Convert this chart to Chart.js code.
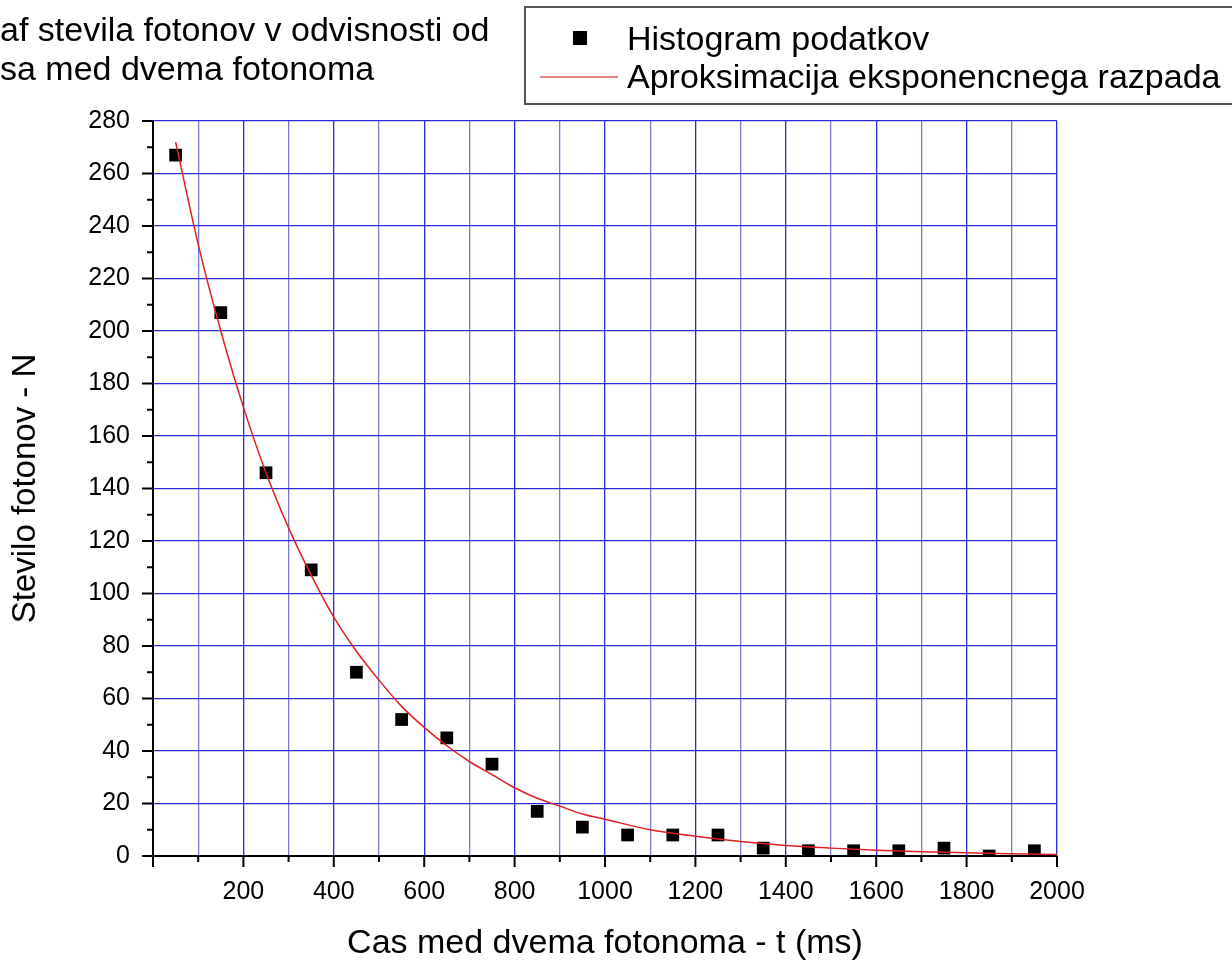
<!DOCTYPE html>
<html>
<head>
<meta charset="utf-8">
<script src="https://cdn.jsdelivr.net/npm/chart.js@4/dist/chart.umd.min.js"></script>
<style>
  html, body { margin: 0; padding: 0; background: #fff; }
  #wrap { width: 1232px; height: 965px; }
</style>
</head>
<body>
<div id="wrap"><canvas id="chart" width="1232" height="965"></canvas></div>
<script>
// histogram data (bin centres, counts)
const binT = [50, 150, 250, 350, 450, 550, 650, 750, 850, 950, 1050, 1150, 1250, 1350, 1450, 1550, 1650, 1750, 1850, 1950];
const binN = [267, 207, 146, 109, 70, 52, 45, 35, 17, 11, 8, 8, 8, 3, 2, 2, 2, 3, 0, 2];

// fitted exponential decay
const fitT = [50, 100, 150, 200, 250, 300, 350, 400, 450, 500, 550, 600, 650, 700, 750, 800, 850, 900, 950, 1000,
  1100, 1200, 1300, 1400, 1500, 1600, 1700, 1800, 1900, 2000];
const fitN = [272, 233, 200, 171, 146, 125, 107, 91, 78, 67, 57, 49, 42, 36, 31, 26, 22, 19, 16, 14,
  10, 7.5, 5.5, 4, 3, 2.2, 1.6, 1.2, 0.9, 0.6];

const titleLines = ['af stevila fotonov v odvisnosti od', 'sa med dvema fotonoma'];
const legendLabels = ['Histogram podatkov', 'Aproksimacija eksponencnega razpada'];

const FONT = '"Liberation Sans", Arial, sans-serif';
const GRID_MAJOR = '#2a2ad8';
const GRID_MINOR = '#7a7ad0';

// minor/major tick marks + title + legend box
const decor = {
  id: 'decor',
  afterDraw(chart) {
    const ctx = chart.ctx;
    const xs = chart.scales.x, ys = chart.scales.y;
    const area = chart.chartArea;
    ctx.save();
    ctx.strokeStyle = '#000';
    ctx.lineWidth = 2;
    ctx.beginPath();
    for (let v = 0; v <= 2000; v += 100) {
      const px = xs.getPixelForValue(v);
      const len = v % 200 === 0 ? 11 : 6;
      ctx.moveTo(px, area.bottom);
      ctx.lineTo(px, area.bottom + len);
    }
    for (let v = 0; v <= 280; v += 10) {
      const py = ys.getPixelForValue(v);
      const len = v % 20 === 0 ? 11 : 6;
      ctx.moveTo(area.left, py);
      ctx.lineTo(area.left - len, py);
    }
    ctx.stroke();

    // title (cut off at the left like the source)
    ctx.fillStyle = '#000';
    ctx.font = '34px ' + FONT;
    ctx.textAlign = 'left';
    ctx.textBaseline = 'alphabetic';
    ctx.fillText(titleLines[0], 0, 41);
    ctx.fillText(titleLines[1], 0, 80);

    // legend box
    ctx.strokeStyle = '#555';
    ctx.lineWidth = 2;
    ctx.strokeRect(525, 7, 720, 97);
    ctx.fillStyle = '#000';
    ctx.fillRect(573, 31, 14, 14);
    ctx.strokeStyle = '#d85a5a';
    ctx.lineWidth = 1.5;
    ctx.beginPath();
    ctx.moveTo(540, 77);
    ctx.lineTo(618, 77);
    ctx.stroke();
    ctx.fillStyle = '#000';
    ctx.font = '34px ' + FONT;
    ctx.fillText(legendLabels[0], 627, 50);
    ctx.fillText(legendLabels[1], 627, 88);
    ctx.restore();
  }
};

new Chart(document.getElementById('chart'), {
  type: 'scatter',
  data: {
    datasets: [
      {
        label: legendLabels[0],
        data: binT.map((t, i) => ({ x: t, y: binN[i] })),
        pointStyle: 'rect',
        pointRadius: 9,
        backgroundColor: '#000',
        borderColor: '#000',
        borderWidth: 0,
        order: 2
      },
      {
        label: legendLabels[1],
        type: 'line',
        data: fitT.map((t, i) => ({ x: t, y: fitN[i] })),
        borderColor: '#e02020',
        borderWidth: 1.5,
        pointRadius: 0,
        fill: false,
        cubicInterpolationMode: 'monotone',
        order: 1
      }
    ]
  },
  options: {
    responsive: false,
    animation: false,
    layout: { padding: { left: 0, top: 121, right: 175, bottom: 0 } },
    plugins: { legend: { display: false }, title: { display: false }, tooltip: { enabled: false } },
    scales: {
      x: {
        type: 'linear',
        min: 0, max: 2000,
        afterFit: s => { s.height = 109; },
        ticks: {
          stepSize: 100,
          autoSkip: false,
          maxRotation: 0,
          padding: 21,
          color: '#000',
          font: { family: FONT, size: 25 },
          callback: v => (v % 200 === 0 && v !== 0) ? String(v) : ''
        },
        grid: {
          drawTicks: false,
          color: c => (c.tick && c.tick.value % 200 === 0) ? GRID_MAJOR : GRID_MINOR,
          lineWidth: 1.3
        },
        border: { color: '#000', width: 2 },
        title: {
          display: true,
          text: 'Cas med dvema fotonoma - t (ms)',
          color: '#000',
          font: { family: FONT, size: 34 },
          padding: { top: 0, bottom: 1 }
        }
      },
      y: {
        type: 'linear',
        min: 0, max: 280,
        afterFit: s => { s.width = 153; },
        ticks: {
          stepSize: 20,
          padding: 23,
          color: '#000',
          font: { family: FONT, size: 25 }
        },
        grid: {
          drawTicks: false,
          color: GRID_MAJOR,
          lineWidth: 1.3
        },
        border: { color: '#000', width: 2 },
        title: {
          display: true,
          text: 'Stevilo fotonov - N',
          color: '#000',
          font: { family: FONT, size: 33 },
          padding: { top: 6, bottom: 0 }
        }
      }
    }
  },
  plugins: [decor]
});
</script>
</body>
</html>
